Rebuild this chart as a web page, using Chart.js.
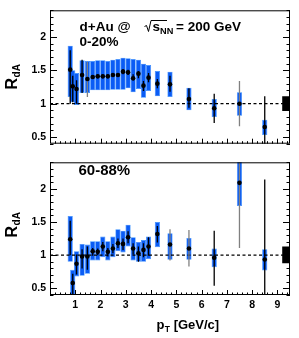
<!DOCTYPE html>
<html>
<head>
<meta charset="utf-8">
<script src="https://cdn.jsdelivr.net/npm/chart.js@4.4.1/dist/chart.umd.min.js"></script>
<style>
  html, body { margin: 0; padding: 0; background: #fff; }
  #wrap { position: relative; width: 299px; height: 338px; }
  #wrap canvas { position: absolute; left: 0; }
</style>
</head>
<body>
<div id="wrap">
  <canvas id="top" width="299" height="154" style="top:0"></canvas>
  <canvas id="bottom" width="299" height="186" style="top:152px"></canvas>
</div>
<script>
// pT bin centres [GeV/c]
const pt = [0.8, 0.9, 1.05, 1.27, 1.48, 1.69, 1.89, 2.09, 2.29, 2.49, 2.69, 2.89,
            3.09, 3.29, 3.5, 3.7, 3.9, 4.25, 4.75, 5.5, 6.5, 7.5, 8.5];

// 0-20% central
const rdA020 = [1.51, 1.26, 1.22, 1.43, 1.37, 1.40, 1.41, 1.41, 1.41, 1.43, 1.43, 1.48,
                1.47, 1.38, 1.45, 1.27, 1.39, 1.30, 1.29, 1.07, 0.93, 1.00, 0.65];
const stat020Lo = [1.00, 1.02, 1.00, 1.16, 1.10, 1.37, 1.38, 1.38, 1.38, 1.40, 1.40, 1.44,
                   1.43, 1.35, 1.38, 1.19, 1.32, 1.23, 1.18, 0.94, 0.71, 0.66, 0.30];
const stat020Hi = [1.80, 1.42, 1.35, 1.66, 1.63, 1.43, 1.44, 1.44, 1.44, 1.46, 1.46, 1.52,
                   1.51, 1.44, 1.49, 1.34, 1.46, 1.37, 1.42, 1.23, 1.15, 1.34, 1.11];
const sys020Lo = [1.10, 1.02, 0.98, 1.16, 1.16, 1.20, 1.20, 1.20, 1.20, 1.21, 1.21, 1.21,
                  1.23, 1.17, 1.22, 1.09, 1.19, 1.11, 1.10, 0.90, 0.80, 0.82, 0.53];
const sys020Hi = [1.87, 1.50, 1.46, 1.65, 1.64, 1.64, 1.65, 1.65, 1.64, 1.66, 1.67, 1.69,
                  1.68, 1.67, 1.66, 1.60, 1.58, 1.49, 1.48, 1.24, 1.07, 1.17, 0.76];
const gray020 = [4, 21];
const norm020 = [0.89, 1.11];

// 60-88% peripheral
const rdA6088 = [1.24, 0.58, 0.87, 0.98, 0.98, 1.06, 1.05, 1.13, 1.05, 1.10, 1.18, 1.17,
                 1.27, 1.10, 1.03, 1.08, 1.13, 1.32, 1.16, 1.10, 0.96, 2.09, 0.935];
const stat6088Lo = [1.00, 0.30, 0.71, 0.80, 0.78, 0.99, 1.00, 1.06, 0.98, 1.03, 1.11, 1.08,
                    1.18, 1.01, 0.90, 0.97, 0.99, 1.19, 0.92, 0.83, 0.54, 1.11, 0.30];
const stat6088Hi = [1.52, 0.72, 1.01, 1.09, 1.13, 1.11, 1.10, 1.20, 1.11, 1.17, 1.25, 1.25,
                    1.36, 1.18, 1.13, 1.18, 1.27, 1.44, 1.39, 1.38, 1.37, 2.60, 2.14];
const sys6088Lo = [0.90, 0.30, 0.68, 0.69, 0.72, 0.92, 0.92, 0.97, 0.92, 0.97, 1.06, 1.04,
                   1.13, 0.92, 0.90, 0.90, 0.94, 1.12, 0.93, 0.93, 0.82, 1.74, 0.77];
const sys6088Hi = [1.59, 0.78, 1.06, 1.17, 1.16, 1.21, 1.21, 1.28, 1.21, 1.28, 1.39, 1.37,
                   1.46, 1.27, 1.20, 1.23, 1.28, 1.50, 1.33, 1.26, 1.10, 2.60, 1.09];
const gray6088 = [18, 19, 21];
const norm6088 = [0.88, 1.13];

const normX = 9.35;
const refLevel = 1;
const xRange = [0, 9.5];
const yRange = [0.4, 2.4];
const xTicks = [1, 2, 3, 4, 5, 6, 7, 8, 9];
const yTicks = [0.5, 1, 1.5, 2];

const FONT = '"Liberation Sans", Arial, sans-serif';
const BLUE = '#0a5cf5';
const BLUE_EDGE = '#3a90ff';

// frame with ROOT-like inward ticks (left, right, bottom)
const frame = {
    id: 'frame',
    afterDatasetsDraw(chart) {
        const {ctx, chartArea: a, scales: {x, y}} = chart;
        ctx.save();
        ctx.strokeStyle = '#000';
        ctx.lineWidth = 1;
        ctx.strokeRect(a.left + 0.5, a.top + 0.5, a.right - a.left - 1, a.bottom - a.top - 1);
        ctx.beginPath();
        for (let k = 4; k <= 24; k++) {
            const v = k / 10;
            const len = yTicks.includes(v) ? 7 : 3.5;
            const py = Math.round(y.getPixelForValue(v)) + 0.5;
            ctx.moveTo(a.left, py);
            ctx.lineTo(a.left + len, py);
            ctx.moveTo(a.right, py);
            ctx.lineTo(a.right - len, py);
        }
        for (let k = 1; k < 48; k++) {
            const v = k / 5;
            const len = xTicks.includes(v) ? 5 : 2.5;
            const px = Math.round(x.getPixelForValue(v)) + 0.5;
            ctx.moveTo(px, a.bottom);
            ctx.lineTo(px, a.bottom - len);
        }
        ctx.stroke();
        ctx.restore();
    }
};

function drawRdA(ctx, cy) {
    ctx.save();
    ctx.translate(16.5, cy);
    ctx.rotate(-Math.PI / 2);
    const fR = 'bold 16px ' + FONT;
    const fS = 'bold 10px ' + FONT;
    ctx.font = fR;
    const wR = ctx.measureText('R').width;
    ctx.font = fS;
    const wS = ctx.measureText('dA').width;
    const x0 = -(wR + wS) / 2;
    ctx.font = fR;
    ctx.fillText('R', x0, 0);
    ctx.font = fS;
    ctx.fillText('dA', x0 + wR + 0.5, 3);
    ctx.restore();
}

function textPlugin(draw) {
    return {
        id: 'texts',
        afterDraw(chart) {
            const ctx = chart.ctx;
            ctx.save();
            ctx.fillStyle = '#000';
            ctx.strokeStyle = '#000';
            ctx.textBaseline = 'alphabetic';
            draw(ctx);
            ctx.restore();
        }
    };
}

function makePanel(id, vals, sLo, sHi, yLo, yHi, grayIdx, norm, bottom, texts) {
    const tickFont = {family: FONT, weight: 'bold', size: 10.5};
    return new Chart(document.getElementById(id), {
        type: 'scatter',
        data: {
            datasets: [
                {
                    type: 'scatter',
                    data: pt.map((x, i) => ({x: x, y: vals[i]})),
                    pointRadius: 2.3,
                    pointBackgroundColor: '#000',
                    pointBorderWidth: 0,
                    order: 1
                },
                {
                    type: 'bar',
                    data: pt.map((x, i) => ({x: x, y: [sLo[i], sHi[i]]})),
                    backgroundColor: pt.map((x, i) => grayIdx.includes(i) ? '#808080' : '#000'),
                    barThickness: 1.3,
                    inflateAmount: 0,
                    grouped: false,
                    order: 2
                },
                {
                    type: 'bar',
                    data: [{x: normX, y: norm}],
                    backgroundColor: '#000',
                    barThickness: 8,
                    inflateAmount: 0,
                    grouped: false,
                    order: 2.5
                },
                {
                    type: 'line',
                    data: xRange.map(x => ({x: x, y: refLevel})),
                    borderColor: '#000',
                    borderWidth: 1.2,
                    borderDash: [3, 2.5],
                    pointRadius: 0,
                    order: 3
                },
                {
                    type: 'bar',
                    data: pt.map((x, i) => ({x: x, y: [yLo[i], yHi[i]]})),
                    backgroundColor: BLUE,
                    borderColor: BLUE_EDGE,
                    borderWidth: 0.7,
                    borderSkipped: false,
                    barThickness: 5.2,
                    inflateAmount: 0,
                    grouped: false,
                    order: 4
                }
            ]
        },
        options: {
            responsive: false,
            animation: false,
            events: [],
            layout: {padding: {left: 0, top: bottom ? 1 : 9, right: 9, bottom: bottom ? 0 : 1}},
            plugins: {legend: {display: false}, tooltip: {enabled: false}},
            scales: {
                x: {
                    type: 'linear',
                    min: xRange[0],
                    max: xRange[1],
                    offset: false,
                    display: bottom,
                    grid: {display: false, drawTicks: false},
                    border: {display: false},
                    ticks: {font: tickFont, color: '#000', padding: 4, maxRotation: 0},
                    afterBuildTicks: s => { s.ticks = xTicks.map(v => ({value: v})); },
                    afterFit: s => { s.height = bottom ? 43 : 0; }
                },
                y: {
                    type: 'linear',
                    min: yRange[0],
                    max: yRange[1],
                    grid: {display: false, drawTicks: false},
                    border: {display: false},
                    ticks: {font: tickFont, color: '#000', padding: 4, callback: v => String(v)},
                    afterBuildTicks: s => { s.ticks = yTicks.map(v => ({value: v})); },
                    afterFit: s => { s.width = 50; }
                }
            }
        },
        plugins: [frame, textPlugin(texts)]
    });
}

makePanel('top', rdA020, stat020Lo, stat020Hi, sys020Lo, sys020Hi, gray020, norm020, false, ctx => {
    const f = 'bold 13.5px ' + FONT;
    ctx.font = f;
    ctx.fillText('d+Au @', 79.5, 31);
    ctx.lineWidth = 1;
    ctx.beginPath();
    ctx.moveTo(144.5, 26.5);
    ctx.lineTo(146.5, 25.5);
    ctx.lineTo(148.5, 31.5);
    ctx.lineTo(151, 20.5);
    ctx.lineTo(167, 20.5);
    ctx.stroke();
    ctx.fillText('s', 152.5, 31);
    ctx.font = 'bold 9.2px ' + FONT;
    ctx.fillText('NN', 160, 33.7);
    ctx.font = f;
    ctx.fillText('= 200 GeV', 176, 31);
    ctx.fillText('0-20%', 79.5, 45.5);
    drawRdA(ctx, 77);
});

makePanel('bottom', rdA6088, stat6088Lo, stat6088Hi, sys6088Lo, sys6088Hi, gray6088, norm6088, true, ctx => {
    ctx.font = 'bold 15px ' + FONT;
    ctx.fillText('60-88%', 78.5, 23);
    drawRdA(ctx, 73);
    ctx.font = 'bold 13px ' + FONT;
    ctx.fillText('p', 156.5, 177);
    const wp = ctx.measureText('p').width;
    ctx.font = 'bold 8.5px ' + FONT;
    ctx.fillText('T', 156.5 + wp + 0.3, 180);
    const wt = ctx.measureText('T').width;
    ctx.font = 'bold 13px ' + FONT;
    ctx.fillText('[GeV/c]', 156.5 + wp + wt + 4, 177);
});
</script>
</body>
</html>
